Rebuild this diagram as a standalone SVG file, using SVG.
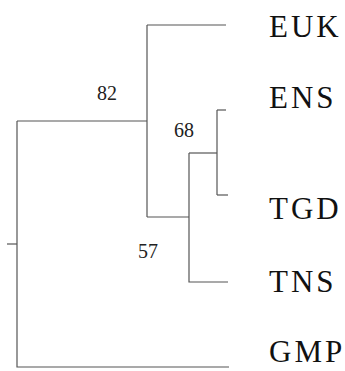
<svg xmlns="http://www.w3.org/2000/svg" width="345" height="371" viewBox="0 0 345 371">
<style>
.e{stroke:#555;stroke-width:1.2;fill:none}
.t{font-family:"Liberation Serif","Times New Roman",serif;font-size:31px;letter-spacing:3px;fill:#111}
.b{font-family:"Liberation Serif","Times New Roman",serif;font-size:20px;fill:#222;text-anchor:middle}
</style>
<rect width="345" height="371" fill="#fff"/>
<g id="connectors">
<path class="e" d="M7,244H17"/>
<path class="e" d="M17,121V367H229"/>
<path class="e" d="M17,121H147"/>
<path class="e" d="M147,25V217"/>
<path class="e" d="M147,25H226"/>
<path class="e" d="M147,217H189"/>
<path class="e" d="M189,153V282H228"/>
<path class="e" d="M189,153H217"/>
<path class="e" d="M217,110V195"/>
<path class="e" d="M217,110H226"/>
<path class="e" d="M217,195H228"/>
</g>
<g id="EUK"><text class="t" x="269" y="37">EUK</text></g>
<g id="ENS"><text class="t" x="269" y="108">ENS</text></g>
<g id="TGD"><text class="t" x="269" y="219">TGD</text></g>
<g id="TNS"><text class="t" x="269" y="292">TNS</text></g>
<g id="GMP"><text class="t" x="269" y="362">GMP</text></g>
<g id="n82"><text class="b" x="107" y="100">82</text></g>
<g id="n68"><text class="b" x="184" y="137">68</text></g>
<g id="n57"><text class="b" x="148" y="258">57</text></g>
</svg>
